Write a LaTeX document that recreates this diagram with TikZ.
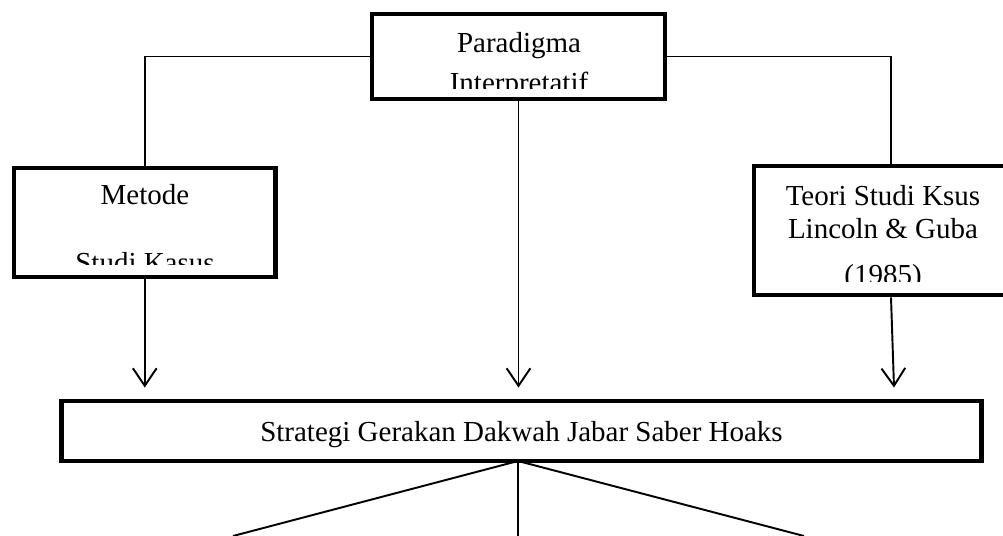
\documentclass[tikz,border=0pt]{standalone}
\usepackage{fontspec}
\setmainfont{Liberation Serif}
\usetikzlibrary{arrows.meta, positioning, calc}

\begin{document}
\begin{tikzpicture}[
  x=0.02cm, y=-0.02cm,
  frame/.style={draw=black, line width=2.8pt, fill=white, inner sep=0pt},
  boxtext/.style={font=\fontsize{16.5}{19.8}\selectfont, inner sep=0pt, anchor=base},
  link/.style={draw=black, line width=1.1pt},
  flow/.style={link, -{Straight Barb[length=10pt, width=13.5pt, line width=1.1pt]}},
]
  % Page frame
  \clip (0,0) rectangle (1003,536);

  % Boxes
  \node[frame, minimum width=5.86cm, minimum height=1.70cm] (paradigm) at (518.5,56.5) {};
  \node[frame, minimum width=5.23cm, minimum height=2.18cm] (method) at (144.75,222.5) {};
  \node[frame, minimum width=5.16cm, minimum height=2.58cm] (theory) at (883,230.5) {};
  \node[frame, minimum width=18.41cm, minimum height=1.20cm] (strategy) at (521.5,431) {};

  % Box texts, cut off at the bottom as in the original
  \begin{scope}
    \clip (375,17) rectangle (662,89);
    \node[boxtext] (paradigmA) at (519,53) {Paradigma};
    \node[boxtext] (paradigmB) at (519,93) {Interpretatif};
  \end{scope}
  \begin{scope}
    \clip (17,171) rectangle (272,265);
    \node[boxtext] (methodA) at (145,205) {Metode};
    \node[boxtext] (methodB) at (145,273) {Studi Kasus};
  \end{scope}
  \begin{scope}
    \clip (757,170) rectangle (1003,282);
    \node[boxtext] (theoryA) at (883,206) {Teori Studi Ksus};
    \node[boxtext] (theoryB) at (883,239) {Lincoln \& Guba};
    \node[boxtext] (theoryC) at (883,285) {(1985)};
  \end{scope}
  \node[boxtext] (strategyA) at (521.5,441) {Strategi Gerakan Dakwah Jabar Saber Hoaks};

  % Lines from the paradigm to the side boxes
  \draw[link] (paradigm.west) -| (method.north);
  \draw[link] (paradigm.east) -| ($(theory.north)+(8,0)$);

  % Arrows down to the strategy
  \draw[flow] (method.south) -- ($(method.south |- strategy.north)+(0,-11)$);
  \draw[flow] (paradigm.south) -- ($(paradigm.south |- strategy.north)+(0,-11)$);
  \draw[flow] ($(theory.south)+(8,0)$) -- ($(theory.south |- strategy.north)+(11,-11)$);

  % Branches below the strategy
  \coordinate (root) at (518,461);
  \coordinate (leafL) at (233,536);
  \coordinate (leafM) at (518,536);
  \coordinate (leafR) at (804,536);
  \draw[link] (root) -- (leafL);
  \draw[link] (root) -- (leafM);
  \draw[link] (root) -- (leafR);
\end{tikzpicture}
\end{document}
